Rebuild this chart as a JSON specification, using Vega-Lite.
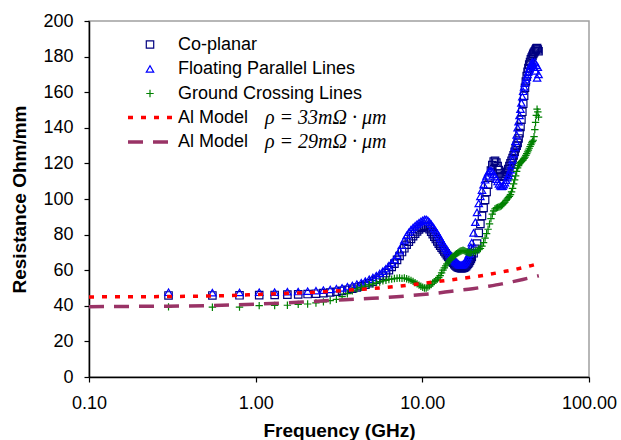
{
"$schema": "https://vega.github.io/schema/vega-lite/v6.json",
"width": 500, "height": 356,
"autosize": {"type": "none"},
"padding": {"left": 89, "top": 21, "right": 32, "bottom": 63},
"background": "white",
"config": {
  "font": "Liberation Sans",
  "view": {"stroke": "#A0A0A0", "strokeWidth": 1.5},
  "axis": {"domainColor": "#000", "domainWidth": 1.5, "tickColor": "#000", "tickWidth": 1.2, "tickSize": 5, "labelFont": "Liberation Sans", "labelFontSize": 18, "labelColor": "#000", "titleFont": "Liberation Sans", "titleFontSize": 19, "titleFontWeight": "bold", "titleColor": "#000", "grid": false},
  "legend": {"labelFont": "Liberation Sans", "labelFontSize": 18, "labelColor": "#000", "labelLimit": 500, "padding": 0, "rowPadding": 1.5, "clipHeight": 23, "offset": 0, "title": null}
},
"encoding": {
  "x": {"field": "f", "type": "quantitative", "scale": {"type": "log", "domain": [0.1, 100]},
    "axis": {"values": [0.1, 1, 10, 100], "format": ".2f", "title": "Frequency (GHz)", "labelPadding": 12, "labelFlush": false, "labelOverlap": false, "labelBound": false, "titleY": 59, "titleBaseline": "alphabetic"}},
  "y": {"field": "R", "type": "quantitative", "scale": {"domain": [0, 200]},
    "axis": {"values": [0, 20, 40, 60, 80, 100, 120, 140, 160, 180, 200], "title": "Resistance Ohm/mm", "labelPadding": 11, "labelOverlap": false, "labelFlush": false, "labelBound": false, "titleX": -64, "titleBaseline": "alphabetic", "titleAngle": -90}}
},
"layer": [
{
  "data": {"values": [
{"f":0.3,"a":45.8,"b":47.6,"c":39.4},
{"f":0.55,"a":45.8,"b":47.4,"c":39.2},
{"f":0.8,"a":45.9,"b":47.5,"c":39.3},
{"f":1.05,"a":46.0,"b":47.6,"c":40.1},
{"f":1.3,"a":46.1,"b":47.7,"c":40.2},
{"f":1.55,"a":46.3,"b":47.9,"c":40.3},
{"f":1.8,"a":46.4,"b":48.0,"c":40.8},
{"f":2.05,"a":46.6,"b":48.2,"c":41.0},
{"f":2.3,"a":46.8,"b":48.5,"c":41.6},
{"f":2.55,"a":47.1,"b":48.8,"c":42.2},
{"f":2.8,"a":47.5,"b":49.2,"c":42.9},
{"f":3.05,"a":47.9,"b":49.6,"c":43.6},
{"f":3.3,"a":48.4,"b":50.1,"c":45.2},
{"f":3.55,"a":49.0,"b":50.7,"c":46.8},
{"f":3.8,"a":49.6,"b":51.4,"c":48.4},
{"f":4.05,"a":50.3,"b":52.2,"c":49.5},
{"f":4.3,"a":51.0,"b":53.0,"c":50.4},
{"f":4.55,"a":51.8,"b":53.9,"c":51.0},
{"f":4.8,"a":52.7,"b":54.9,"c":51.8},
{"f":5.05,"a":53.6,"b":55.9,"c":52.3},
{"f":5.3,"a":54.6,"b":57.0,"c":52.9},
{"f":5.55,"a":55.7,"b":58.2,"c":53.4},
{"f":5.8,"a":56.9,"b":59.5,"c":54.0},
{"f":6.05,"a":58.4,"b":60.9,"c":54.3},
{"f":6.3,"a":60.0,"b":62.5,"c":54.8},
{"f":6.55,"a":61.8,"b":64.2,"c":55.0},
{"f":6.8,"a":63.7,"b":66.0,"c":55.3},
{"f":7.05,"a":65.8,"b":68.5,"c":55.5},
{"f":7.3,"a":68.0,"b":71.0,"c":55.6},
{"f":7.55,"a":70.2,"b":74.0,"c":55.4},
{"f":7.8,"a":72.3,"b":77.0,"c":55.6},
{"f":8.05,"a":74.3,"b":79.5,"c":55.2},
{"f":8.3,"a":76.0,"b":81.3,"c":54.8},
{"f":8.55,"a":77.6,"b":82.8,"c":54.3},
{"f":8.8,"a":79.1,"b":84.0,"c":53.7},
{"f":9.05,"a":80.5,"b":85.0,"c":53.0},
{"f":9.3,"a":81.8,"b":85.9,"c":52.3},
{"f":9.55,"a":82.9,"b":86.7,"c":51.6},
{"f":9.8,"a":83.8,"b":87.4,"c":51.0},
{"f":10.05,"a":84.5,"b":88.0,"c":50.4},
{"f":10.3,"a":85.0,"b":88.5,"c":50.0},
{"f":10.55,"a":84.8,"b":88.6,"c":50.0},
{"f":10.8,"a":84.0,"b":88.0,"c":50.5},
{"f":11.05,"a":83.0,"b":87.0,"c":51.2},
{"f":11.3,"a":81.6,"b":85.8,"c":52.0},
{"f":11.55,"a":80.2,"b":84.6,"c":52.8},
{"f":11.8,"a":78.8,"b":83.3,"c":53.6},
{"f":12.05,"a":77.5,"b":82.0,"c":54.3},
{"f":12.3,"a":76.2,"b":80.6,"c":55.0},
{"f":12.55,"a":74.9,"b":79.2,"c":55.8},
{"f":12.8,"a":73.7,"b":77.8,"c":57.0},
{"f":13.05,"a":72.6,"b":76.4,"c":58.5},
{"f":13.3,"a":71.6,"b":75.0,"c":60.0},
{"f":13.55,"a":70.5,"b":73.7,"c":61.3},
{"f":13.8,"a":69.5,"b":72.5,"c":62.5},
{"f":14.05,"a":68.5,"b":71.3,"c":63.6},
{"f":14.3,"a":67.6,"b":70.2,"c":64.6},
{"f":14.55,"a":66.7,"b":69.1,"c":65.6},
{"f":14.8,"a":65.8,"b":68.1,"c":66.4},
{"f":15.05,"a":65.0,"b":67.2,"c":67.1},
{"f":15.3,"a":64.2,"b":66.3,"c":67.7},
{"f":15.55,"a":63.4,"b":65.5,"c":68.3},
{"f":15.8,"a":62.7,"b":64.8,"c":68.8},
{"f":16.05,"a":62.1,"b":64.2,"c":69.3},
{"f":16.3,"a":61.7,"b":63.7,"c":69.7},
{"f":16.55,"a":61.4,"b":63.3,"c":70.1},
{"f":16.8,"a":61.2,"b":63.0,"c":70.5},
{"f":17.05,"a":61.1,"b":62.9,"c":70.8},
{"f":17.3,"a":61.1,"b":63.0,"c":71.0},
{"f":17.55,"a":61.2,"b":63.2,"c":71.2},
{"f":17.8,"a":61.4,"b":63.6,"c":71.0},
{"f":18.05,"a":61.8,"b":64.3,"c":70.7},
{"f":18.3,"a":62.3,"b":65.2,"c":70.4},
{"f":18.55,"a":62.9,"b":66.3,"c":70.2},
{"f":18.8,"a":63.6,"b":67.6,"c":70.0},
{"f":19.05,"a":64.4,"b":69.0,"c":69.9},
{"f":19.3,"a":65.3,"b":70.8,"c":69.8},
{"f":19.55,"a":66.3,"b":73.0,"c":69.9},
{"f":19.8,"a":67.4,"b":75.5,"c":70.0},
{"f":20.3,"a":69.5,"b":81.0,"c":70.3},
{"f":20.8,"a":72.0,"b":87.0,"c":70.6},
{"f":21.3,"a":75.0,"b":92.5,"c":71.0},
{"f":21.8,"a":81.0,"b":97.5,"c":71.5},
{"f":22.3,"a":86.0,"b":101.5,"c":72.2},
{"f":22.8,"a":90.5,"b":105.0,"c":73.5},
{"f":23.3,"a":95.0,"b":108.0,"c":75.5},
{"f":23.8,"a":99.5,"b":110.8,"c":78.0},
{"f":24.3,"a":104.0,"b":113.0,"c":80.5},
{"f":24.8,"a":108.0,"b":114.8,"c":83.0},
{"f":25.3,"a":112.0,"b":115.8,"c":86.0},
{"f":25.8,"a":116.0,"b":116.0,"c":89.0},
{"f":26.3,"a":119.0,"b":115.3,"c":91.5},
{"f":26.8,"a":121.0,"b":114.0,"c":93.3},
{"f":27.3,"a":121.5,"b":112.6,"c":94.5},
{"f":27.8,"a":120.5,"b":111.2,"c":95.0},
{"f":28.3,"a":118.5,"b":109.8,"c":95.3},
{"f":28.8,"a":116.3,"b":108.5,"c":95.5},
{"f":29.3,"a":114.3,"b":107.5,"c":95.8},
{"f":29.8,"a":113.0,"b":107.0,"c":96.2},
{"f":30.3,"a":112.5,"b":107.2,"c":96.8},
{"f":30.8,"a":112.7,"b":108.0,"c":97.5},
{"f":31.3,"a":113.3,"b":109.2,"c":98.3},
{"f":31.8,"a":114.2,"b":110.6,"c":99.2},
{"f":32.3,"a":115.3,"b":112.0,"c":100.0},
{"f":32.8,"a":116.8,"b":113.2,"c":100.8},
{"f":33.3,"a":118.5,"b":114.5,"c":101.5},
{"f":33.8,"a":120.0,"b":116.5,"c":102.5},
{"f":34.3,"a":121.5,"b":119.0,"c":104.0},
{"f":34.8,"a":123.0,"b":122.0,"c":106.0},
{"f":35.3,"a":124.5,"b":125.5,"c":108.5},
{"f":35.8,"a":126.5,"b":129.0,"c":110.8},
{"f":36.3,"a":128.5,"b":132.5,"c":113.0},
{"f":36.8,"a":130.0,"b":136.0,"c":115.5},
{"f":37.3,"a":131.5,"b":140.0,"c":117.5},
{"f":37.8,"a":134.0,"b":143.5,"c":118.8},
{"f":38.3,"a":137.0,"b":147.0,"c":119.8},
{"f":38.8,"a":140.5,"b":150.5,"c":120.5},
{"f":39.3,"a":144.5,"b":154.0,"c":121.0},
{"f":39.8,"a":149.0,"b":157.5,"c":121.5},
{"f":40.3,"a":153.5,"b":160.5,"c":122.0},
{"f":40.8,"a":158.0,"b":163.0,"c":122.8},
{"f":41.3,"a":162.5,"b":165.0,"c":123.5},
{"f":41.8,"a":166.0,"b":167.0,"c":124.5},
{"f":42.3,"a":169.0,"b":168.5,"c":125.5},
{"f":42.8,"a":171.5,"b":170.0,"c":126.5},
{"f":43.3,"a":173.5,"b":171.5,"c":127.5},
{"f":43.8,"a":175.5,"b":173.0,"c":128.5},
{"f":44.3,"a":177.0,"b":174.5,"c":129.5},
{"f":44.8,"a":178.5,"b":175.5,"c":130.5},
{"f":45.3,"a":179.5,"b":176.5,"c":131.5},
{"f":45.8,"a":180.5,"b":177.0,"c":132.3},
{"f":46.3,"a":181.5,"b":176.0,"c":133.0},
{"f":46.8,"a":182.3,"b":174.0,"c":135.0},
{"f":47.3,"a":183.0,"b":177.0,"c":139.0},
{"f":47.8,"a":183.8,"b":172.0,"c":143.0},
{"f":48.3,"a":184.5,"b":175.0,"c":147.0},
{"f":48.8,"a":184.8,"b":168.0,"c":150.5},
{"f":49.3,"a":184.0,"b":174.0,"c":149.0},
{"f":49.8,"a":183.0,"b":170.0,"c":146.0}
  ]},
  "transform": [{"fold": ["a", "b", "c"], "as": ["s", "R"]}],
  "mark": {"type": "point", "filled": false, "size": 55, "strokeWidth": 1.2, "opacity": 1},
  "encoding": {
    "color": {"field": "s", "type": "nominal", "scale": {"domain": ["a", "b", "c"], "range": ["#000080", "#0000FF", "#008000"]},
      "legend": {"orient": "none", "legendX": 52, "legendY": 12, "labelOffset": 19, "symbolSize": 55, "symbolStrokeWidth": 1.2, "labelExpr": "datum.label == 'a' ? 'Co-planar' : datum.label == 'b' ? 'Floating Parallel Lines' : 'Ground Crossing Lines'"}},
    "shape": {"field": "s", "type": "nominal", "scale": {"domain": ["a", "b", "c"], "range": ["square", "triangle-up", "M-1,0H1M0,-1V1"]},
      "legend": {"orient": "none", "legendX": 52, "legendY": 12, "labelOffset": 19, "symbolSize": 55, "symbolStrokeWidth": 1.2, "labelExpr": "datum.label == 'a' ? 'Co-planar' : datum.label == 'b' ? 'Floating Parallel Lines' : 'Ground Crossing Lines'"}},
    "order": {"field": "s"}
  }
},
{
  "data": {"values": [
{"f":0.1,"R":45.0,"m":"33","rho":"ρ = 33mΩ · μm"},
{"f":0.2,"R":45.1,"m":"33","rho":"ρ = 33mΩ · μm"},
{"f":0.3,"R":45.2,"m":"33","rho":"ρ = 33mΩ · μm"},
{"f":0.5,"R":45.5,"m":"33","rho":"ρ = 33mΩ · μm"},
{"f":0.7,"R":45.8,"m":"33","rho":"ρ = 33mΩ · μm"},
{"f":1,"R":46.3,"m":"33","rho":"ρ = 33mΩ · μm"},
{"f":1.5,"R":46.9,"m":"33","rho":"ρ = 33mΩ · μm"},
{"f":2,"R":47.4,"m":"33","rho":"ρ = 33mΩ · μm"},
{"f":3,"R":48.3,"m":"33","rho":"ρ = 33mΩ · μm"},
{"f":4,"R":49.1,"m":"33","rho":"ρ = 33mΩ · μm"},
{"f":5,"R":49.7,"m":"33","rho":"ρ = 33mΩ · μm"},
{"f":6,"R":50.3,"m":"33","rho":"ρ = 33mΩ · μm"},
{"f":7,"R":50.9,"m":"33","rho":"ρ = 33mΩ · μm"},
{"f":8,"R":51.5,"m":"33","rho":"ρ = 33mΩ · μm"},
{"f":10,"R":52.6,"m":"33","rho":"ρ = 33mΩ · μm"},
{"f":12,"R":53.5,"m":"33","rho":"ρ = 33mΩ · μm"},
{"f":15,"R":54.6,"m":"33","rho":"ρ = 33mΩ · μm"},
{"f":20,"R":56.2,"m":"33","rho":"ρ = 33mΩ · μm"},
{"f":25,"R":57.6,"m":"33","rho":"ρ = 33mΩ · μm"},
{"f":30,"R":59.0,"m":"33","rho":"ρ = 33mΩ · μm"},
{"f":35,"R":60.2,"m":"33","rho":"ρ = 33mΩ · μm"},
{"f":40,"R":61.4,"m":"33","rho":"ρ = 33mΩ · μm"},
{"f":45,"R":62.6,"m":"33","rho":"ρ = 33mΩ · μm"},
{"f":50,"R":63.7,"m":"33","rho":"ρ = 33mΩ · μm"},
{"f":0.1,"R":39.5,"m":"29","rho":"ρ = 29mΩ · μm"},
{"f":0.2,"R":39.7,"m":"29","rho":"ρ = 29mΩ · μm"},
{"f":0.3,"R":39.8,"m":"29","rho":"ρ = 29mΩ · μm"},
{"f":0.5,"R":40.1,"m":"29","rho":"ρ = 29mΩ · μm"},
{"f":0.7,"R":40.4,"m":"29","rho":"ρ = 29mΩ · μm"},
{"f":1,"R":40.9,"m":"29","rho":"ρ = 29mΩ · μm"},
{"f":1.5,"R":41.6,"m":"29","rho":"ρ = 29mΩ · μm"},
{"f":2,"R":42.2,"m":"29","rho":"ρ = 29mΩ · μm"},
{"f":3,"R":43.1,"m":"29","rho":"ρ = 29mΩ · μm"},
{"f":4,"R":43.7,"m":"29","rho":"ρ = 29mΩ · μm"},
{"f":5,"R":44.2,"m":"29","rho":"ρ = 29mΩ · μm"},
{"f":7,"R":45.1,"m":"29","rho":"ρ = 29mΩ · μm"},
{"f":10,"R":46.3,"m":"29","rho":"ρ = 29mΩ · μm"},
{"f":12,"R":47.0,"m":"29","rho":"ρ = 29mΩ · μm"},
{"f":15,"R":48.2,"m":"29","rho":"ρ = 29mΩ · μm"},
{"f":20,"R":49.6,"m":"29","rho":"ρ = 29mΩ · μm"},
{"f":25,"R":51.0,"m":"29","rho":"ρ = 29mΩ · μm"},
{"f":30,"R":52.3,"m":"29","rho":"ρ = 29mΩ · μm"},
{"f":35,"R":53.6,"m":"29","rho":"ρ = 29mΩ · μm"},
{"f":40,"R":54.8,"m":"29","rho":"ρ = 29mΩ · μm"},
{"f":45,"R":55.9,"m":"29","rho":"ρ = 29mΩ · μm"},
{"f":50,"R":56.9,"m":"29","rho":"ρ = 29mΩ · μm"}
  ]},
  "mark": {"type": "line", "strokeWidth": 3.5, "interpolate": "monotone"},
  "encoding": {
    "color": {"field": "m", "type": "nominal", "scale": {"domain": ["33", "29"], "range": ["#FF0000", "#993366"]},
      "legend": {"orient": "none", "legendX": 37, "legendY": 85, "labelOffset": 3, "symbolSize": 2025, "symbolStrokeWidth": 3.5, "symbolType": "stroke", "labelExpr": "'Al Model'"}},
    "strokeDash": {"field": "m", "type": "nominal", "scale": {"domain": ["33", "29"], "range": [[5, 8], [15, 10]]},
      "legend": {"orient": "none", "legendX": 37, "legendY": 85, "labelOffset": 3, "symbolSize": 2025, "symbolStrokeWidth": 3.5, "symbolType": "stroke", "labelExpr": "'Al Model'"}},
    "opacity": {"field": "rho", "type": "ordinal", "scale": {"domain": ["ρ = 33mΩ · μm", "ρ = 29mΩ · μm"], "range": [1, 1]},
      "legend": {"orient": "none", "legendX": 156, "legendY": 85, "labelOffset": 0, "symbolSize": 0, "symbolOpacity": 0, "symbolStrokeWidth": 0, "labelFont": "Liberation Serif", "labelFontStyle": "italic", "labelFontSize": 20}}
  }
}
],
"resolve": {"scale": {"color": "independent", "shape": "independent", "strokeDash": "independent", "opacity": "independent"}}
}
